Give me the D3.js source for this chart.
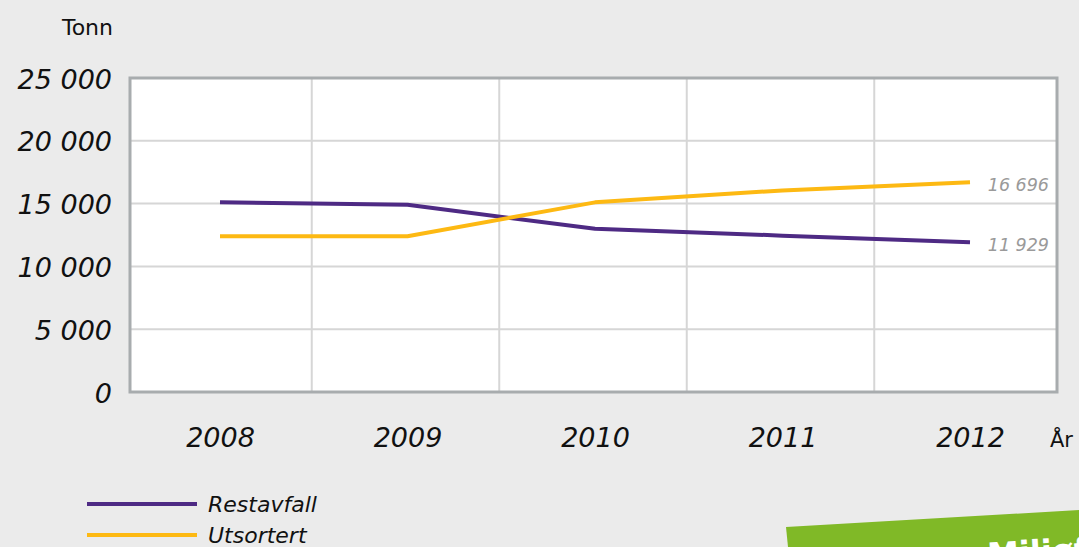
<!DOCTYPE html>
<html><head><meta charset="utf-8">
<script src="https://cdn.jsdelivr.net/npm/d3@7"></script>
<style>
html,body{margin:0;padding:0;background:#ebebeb;}
svg{display:block;}
text{font-family:"DejaVu Sans","Noto Sans",sans-serif;}
</style></head>
<body>
<svg id="c" width="1079" height="547"></svg>
<script>
const years = ["2008","2009","2010","2011","2012"];
const restavfall = [15100, 14900, 13000, 12450, 11929];
const utsortert = [12400, 12400, 15100, 16050, 16696];
const yTicks = [0, 5000, 10000, 15000, 20000, 25000];
const seriesNames = ["Restavfall", "Utsortert"];
const seriesColors = ["#4e2a84", "#fdb913"];

(function(){
const svg = d3.select("#c");
const W = 1079, H = 547;
const FONT = "'DejaVu Sans','Noto Sans',sans-serif";
svg.append("rect").attr("width", W).attr("height", H).attr("fill", "#ebebeb");

const pL = 130, pR = 1057, pT = 78, pB = 392;
const x = d3.scalePoint().domain(years).range([220, 970]);
const y = d3.scaleLinear().domain([0, 25000]).range([pB, pT]);
const fmt = v => d3.format(",")(v).replace(/,/g, " ");

svg.append("rect").attr("x", pL).attr("y", pT).attr("width", pR - pL).attr("height", pB - pT).attr("fill", "#ffffff");

svg.append("g").selectAll("line").data(yTicks.filter(d => d > 0 && d < 25000)).join("line")
  .attr("x1", pL).attr("x2", pR).attr("y1", d => y(d)).attr("y2", d => y(d))
  .attr("stroke", "#d6d6d6").attr("stroke-width", 2);
const mids = years.slice(1).map((yr, i) => (x(years[i]) + x(yr)) / 2 - 2);
svg.append("g").selectAll("line").data(mids).join("line")
  .attr("x1", d => d).attr("x2", d => d).attr("y1", pT).attr("y2", pB)
  .attr("stroke", "#d6d6d6").attr("stroke-width", 2);

svg.append("rect").attr("x", pL).attr("y", pT).attr("width", pR - pL).attr("height", pB - pT)
  .attr("fill", "none").attr("stroke", "#a8acae").attr("stroke-width", 3);

const yAxis = d3.axisLeft(y).tickValues(yTicks).tickFormat(fmt).tickSize(0).tickPadding(18);
const ya = svg.append("g").attr("transform", `translate(${pL},0)`).call(yAxis);
ya.select(".domain").remove();
ya.selectAll("text").attr("font-size", 27).attr("font-style", "italic").attr("fill", "#111")
  .attr("font-family", FONT).attr("dy", "0.37em");

const xAxis = d3.axisBottom(x).tickSize(0).tickPadding(36);
const xa = svg.append("g").attr("transform", `translate(0,${pB})`).call(xAxis);
xa.select(".domain").remove();
xa.selectAll("text").attr("font-size", 27).attr("font-style", "italic").attr("fill", "#111")
  .attr("font-family", FONT);

svg.append("text").attr("x", 113).attr("y", 35).attr("text-anchor", "end").attr("font-size", 22).attr("fill", "#111").text("Tonn");
svg.append("text").attr("x", 1050).attr("y", 447).attr("font-size", 21).attr("fill", "#111").text("År");

const line = d3.line().x((d, i) => x(years[i])).y(d => y(d));
[restavfall, utsortert].forEach((s, i) => {
  svg.append("path").datum(s).attr("d", line).attr("fill", "none")
    .attr("stroke", seriesColors[i]).attr("stroke-width", 4).attr("stroke-linejoin", "round");
});

[utsortert, restavfall].forEach(s => {
  const v = s[s.length - 1];
  svg.append("text").attr("x", 1049).attr("y", y(v) + 9).attr("text-anchor", "end")
    .attr("font-size", 17.5).attr("font-style", "italic").attr("fill", "#9a9a9a").text(fmt(v));
});

seriesNames.forEach((n, i) => {
  const ly = 504 + i * 31;
  svg.append("line").attr("x1", 87).attr("x2", 197).attr("y1", ly).attr("y2", ly)
    .attr("stroke", seriesColors[i]).attr("stroke-width", 4);
  svg.append("text").attr("x", 208).attr("y", ly + 8).attr("font-size", 22).attr("font-style", "italic")
    .attr("fill", "#111").text(n);
});

svg.append("path").attr("d", "M786,527 L1079,510 L1079,547 L788,547 Z").attr("fill", "#80b927");
svg.append("text").attr("x", 988).attr("y", 566).attr("font-size", 32).attr("font-weight", "bold")
  .attr("fill", "#ffffff").attr("transform", "rotate(-3.3 988 566)").text("Miljøfyrtårn");
})();
</script>
</body></html>
